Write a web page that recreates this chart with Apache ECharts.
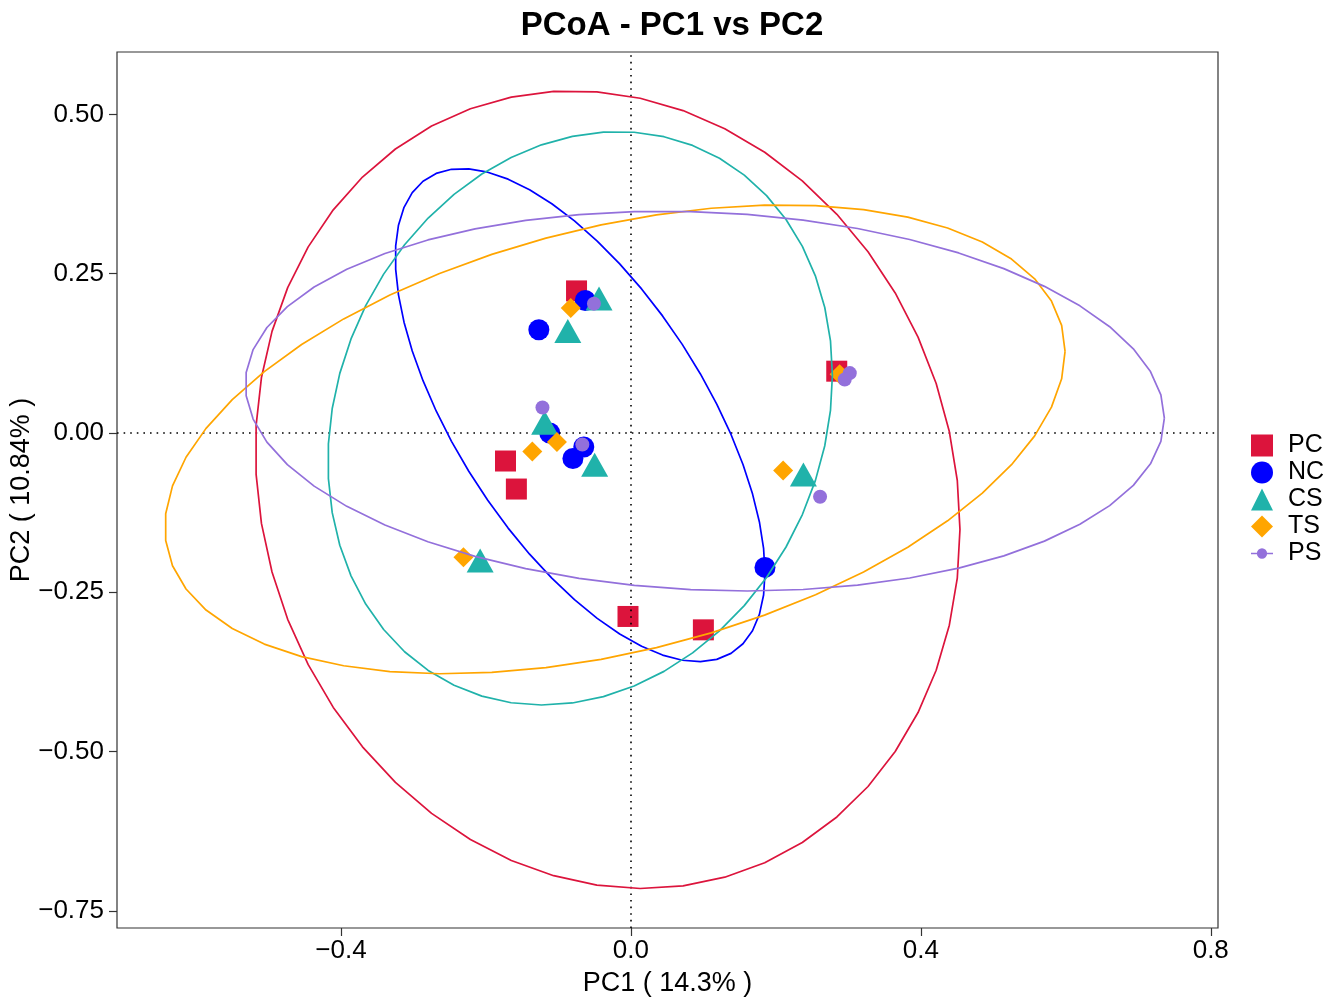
<!DOCTYPE html>
<html>
<head>
<meta charset="utf-8">
<title>PCoA - PC1 vs PC2</title>
<script src="https://cdn.jsdelivr.net/npm/echarts@6/dist/echarts.min.js"></script>
<style>
  html, body { margin: 0; padding: 0; background: #fff; }
  #chart { width: 1333px; height: 1007px; }
</style>
</head>
<body>
<div id="chart"></div>
<script>
// groups and their colours
const groups = ['PC', 'NC', 'CS', 'TS', 'PS'];
const colors = ['#DC143C', '#0000FF', '#20B2AA', '#FFA500', '#9370DB'];

// sample coordinates (PC1, PC2)
const pcX = [-0.075, -0.173, -0.158, 0.284, -0.004, 0.100];
const pcY = [0.223, -0.044, -0.088, 0.097, -0.288, -0.309];
const ncX = [-0.063, -0.127, -0.112, -0.065, -0.080, 0.185];
const ncY = [0.208, 0.162, 0.000, -0.022, -0.040, -0.211];
const csX = [-0.044, -0.087, -0.119, -0.050, 0.238, -0.208];
const csY = [0.211, 0.160, 0.016, -0.050, -0.065, -0.200];
const tsX = [-0.083, -0.102, -0.136, 0.288, 0.210, -0.231];
const tsY = [0.196, -0.014, -0.029, 0.092, -0.059, -0.195];
const psX = [-0.051, -0.122, -0.067, 0.302, 0.295, 0.261];
const psY = [0.203, 0.040, -0.018, 0.094, 0.084, -0.100];

// confidence ellipses per group: centre, half width, half height, correlation
const ellipseCx = [-0.032, -0.070, -0.070, -0.022, 0.102];
const ellipseCy = [-0.089, 0.028, 0.023, -0.010, 0.050];
const ellipseW = [0.486, 0.255, 0.348, 0.621, 0.634];
const ellipseH = [0.626, 0.387, 0.450, 0.368, 0.298];
const ellipseRho = [-0.10, -0.64, 0.15, 0.375, -0.09];

// axis ticks
const xTicks = [-0.4, 0.0, 0.4, 0.8];
const yTicks = [-0.75, -0.50, -0.25, 0.00, 0.25, 0.50];

const xs = [pcX, ncX, csX, tsX, psX];
const ys = [pcY, ncY, csY, tsY, psY];
const symbols = ['rect', 'circle', 'triangle', 'diamond', 'circle'];
const symbolSizes = [21, 21, [27, 24], 20, 14];
const psIcon = 'path://M0,13H30V15H0Z M15,7A7,7 0 1 1 14.99,7Z';

function ellipsePoints(i) {
  const pts = [];
  const delta = Math.acos(ellipseRho[i]);
  const segments = 51;
  for (let k = 0; k <= segments; k++) {
    const t = (2 * Math.PI * k) / segments;
    pts.push([
      ellipseCx[i] + ellipseW[i] * Math.cos(t),
      ellipseCy[i] + ellipseH[i] * Math.cos(t - delta)
    ]);
  }
  return pts;
}

function fmt(v, digits) {
  const s = Math.abs(v).toFixed(digits);
  return v < -1e-9 ? '\u2212' + s : s;
}

const font = 'Liberation Sans, Arial, Helvetica, sans-serif';
const chart = echarts.init(document.getElementById('chart'));

const series = [];
groups.forEach((g, i) => {
  series.push({
    name: g,
    type: 'scatter',
    data: xs[i].map((x, j) => [x, ys[i][j]]),
    symbol: symbols[i],
    symbolSize: symbolSizes[i],
    itemStyle: { color: colors[i], opacity: 1 },
    z: 3 + i,
    silent: true
  });
});
groups.forEach((g, i) => {
  series.push({
    name: g + ' ellipse',
    type: 'line',
    data: ellipsePoints(i),
    showSymbol: false,
    symbol: 'none',
    smooth: false,
    lineStyle: { color: colors[i], width: 1.7 },
    z: 10,
    silent: true
  });
});
// dotted reference lines at 0
series.push({
  name: 'ref',
  type: 'line',
  data: [],
  markLine: {
    silent: true,
    symbol: 'none',
    label: { show: false },
    lineStyle: { color: '#000', width: 1.6, type: [1.6, 5] },
    data: [{ xAxis: 0 }, { yAxis: 0 }]
  },
  z: 2
});

const option = {
  animation: false,
  backgroundColor: '#fff',
  title: {
    text: 'PCoA - PC1 vs PC2',
    left: 667,
    textAlign: 'center',
    top: 4,
    textStyle: { fontFamily: font, fontSize: 33, fontWeight: 'bold', color: '#000' }
  },
  legend: {
    orient: 'vertical',
    left: 1246,
    top: 427,
    itemWidth: 22,
    itemHeight: 22,
    itemGap: 0,
    selectedMode: false,
    textStyle: { fontFamily: font, fontSize: 25, lineHeight: 27, color: '#000', padding: [0, 0, 0, 10] },
    data: [
      { name: 'PC', icon: 'rect' },
      { name: 'NC', icon: 'circle' },
      { name: 'CS', icon: 'triangle' },
      { name: 'TS', icon: 'diamond' },
      { name: 'PS', icon: psIcon }
    ]
  },
  grid: {
    left: 117,
    right: 115,
    top: 52,
    bottom: 79,
    outerBoundsMode: 'none',
    containLabel: false,
    show: true,
    borderColor: '#333',
    borderWidth: 1.2,
    backgroundColor: '#fff'
  },
  xAxis: {
    type: 'value',
    min: -0.709,
    max: 0.81,
    name: 'PC1 ( 14.3% )',
    nameLocation: 'middle',
    nameGap: 42,
    nameMoveOverlap: false,
    nameTextStyle: { fontFamily: font, fontSize: 27, color: '#000' },
    axisLine: { show: false, onZero: false },
    splitLine: { show: false },
    axisTick: { show: true, length: 8, customValues: xTicks, lineStyle: { color: '#333', width: 1.2 } },
    axisLabel: {
      customValues: xTicks,
      fontFamily: font,
      fontSize: 26,
      color: '#000',
      margin: 10,
      formatter: (v) => fmt(v, 1)
    }
  },
  yAxis: {
    type: 'value',
    min: -0.777,
    max: 0.598,
    name: 'PC2 ( 10.84% )',
    nameLocation: 'middle',
    nameGap: 82,
    nameMoveOverlap: false,
    nameTextStyle: { fontFamily: font, fontSize: 27, color: '#000' },
    axisLine: { show: false, onZero: false },
    splitLine: { show: false },
    axisTick: { show: true, length: 8, customValues: yTicks, lineStyle: { color: '#333', width: 1.2 } },
    axisLabel: {
      customValues: yTicks,
      fontFamily: font,
      fontSize: 26,
      color: '#000',
      margin: 13,
      formatter: (v) => fmt(v, 2)
    }
  },
  series: series
};

chart.setOption(option);

window.addEventListener('resize', () => {
  chart.resize();
});
</script>
</body>
</html>
